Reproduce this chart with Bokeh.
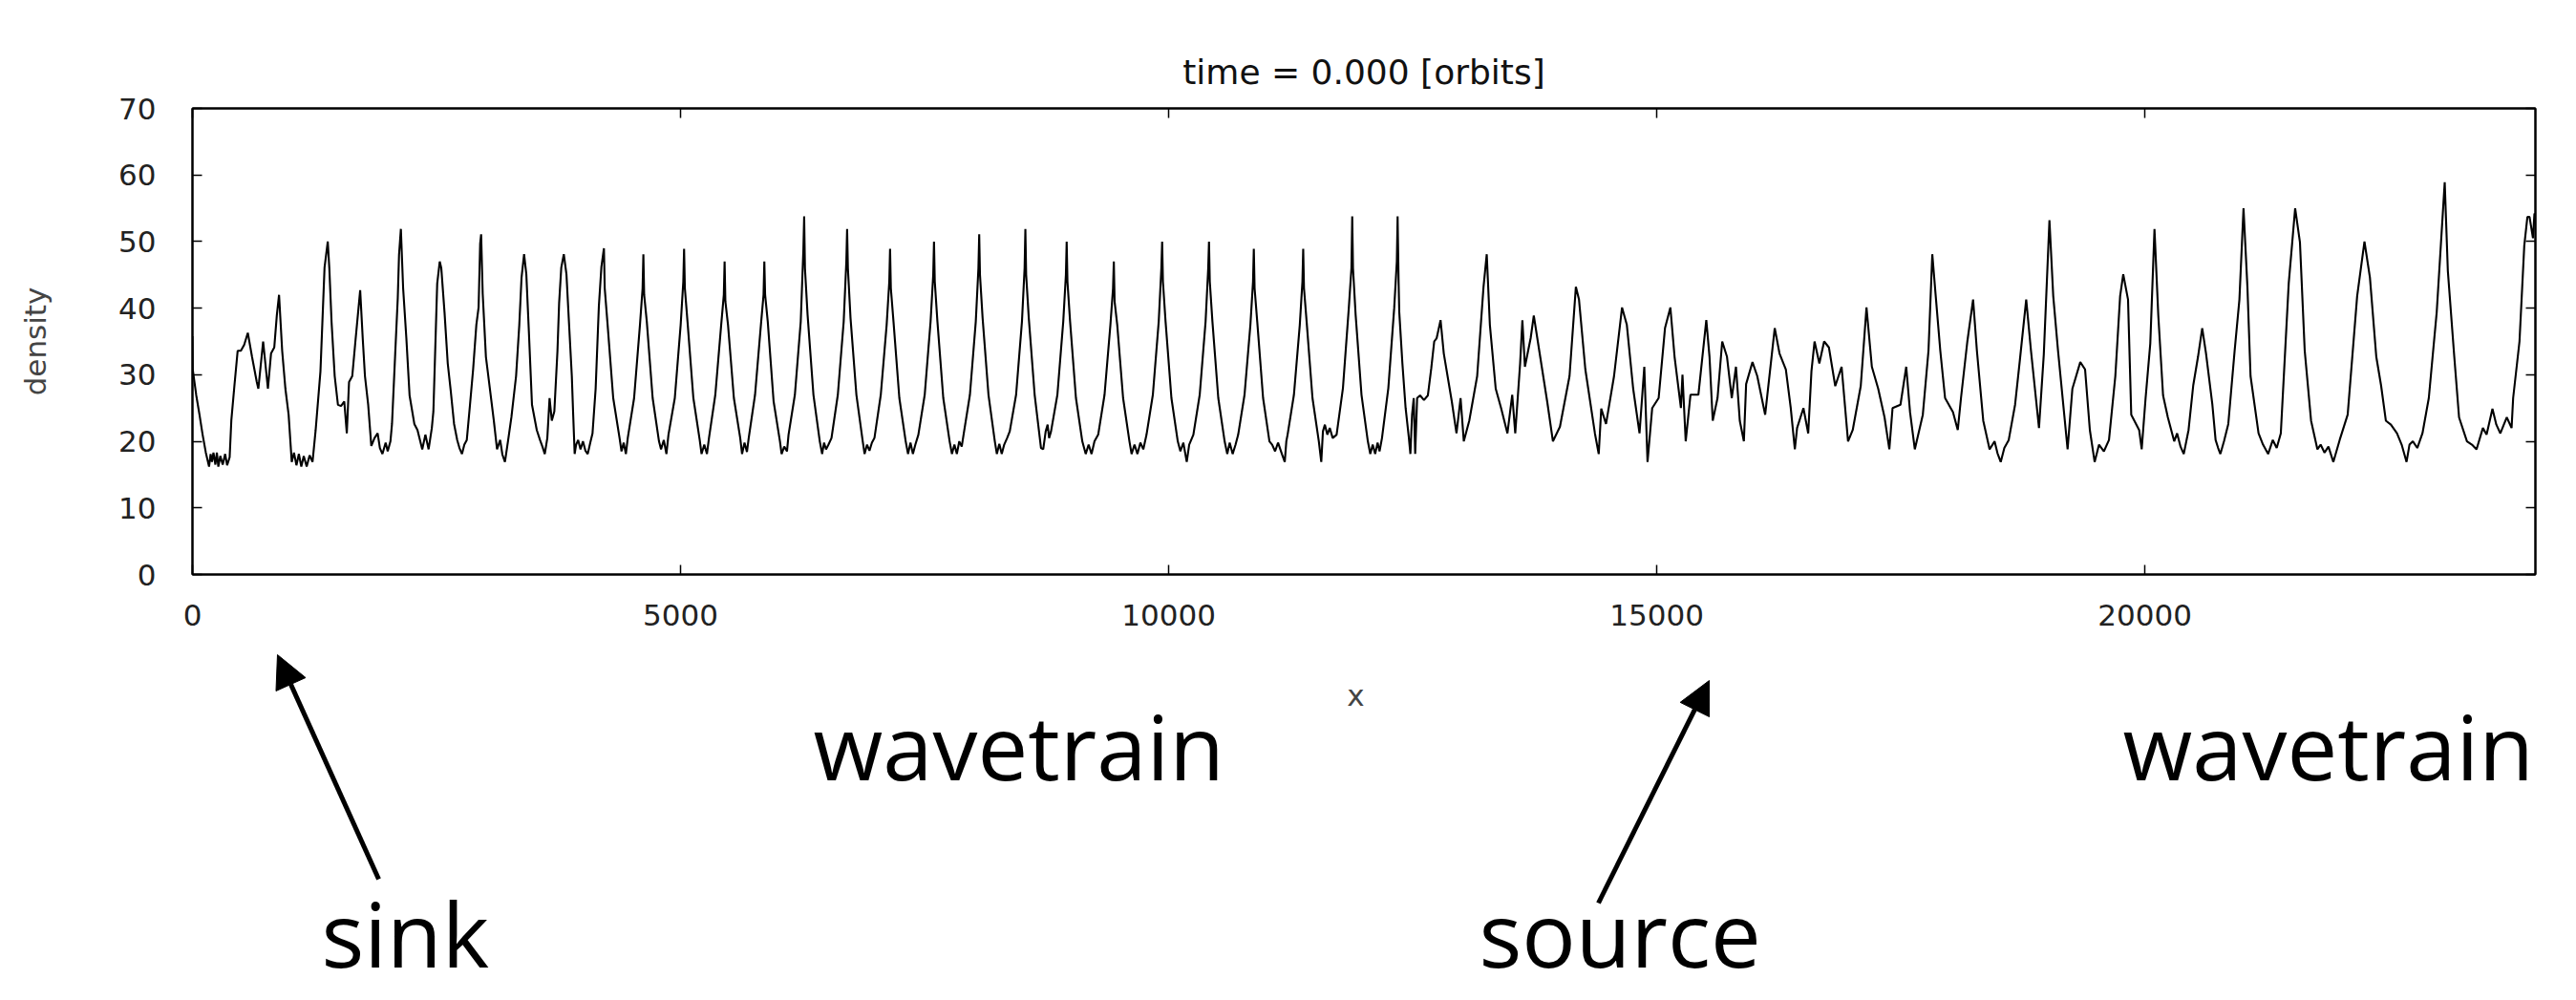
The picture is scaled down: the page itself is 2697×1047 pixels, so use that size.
from bokeh.plotting import figure
from bokeh.layouts import column
from bokeh.models import Range1d, LinearAxis, FixedTicker, Label, Arrow, NormalHead
from bokeh.embed import file_html
from bokeh.resources import INLINE

# ---------------- data ----------------
title_text = "time = 0.000 [orbits]"
x_label = "x"
y_label = "density"
x_ticks = [0, 5000, 10000, 15000, 20000]
x_tick_labels = ["0", "5000", "10000", "15000", "20000"]
y_ticks = [0, 10, 20, 30, 40, 50, 60, 70]
y_tick_labels = ["0", "10", "20", "30", "40", "50", "60", "70"]

# (x, density) vertices of the profile, region by region
sink_pts = [(0, 35.8), (3, 30.8), (39, 26.9), (72, 24), (104, 21), (137, 18.3), (170, 16.2), (186, 18.1),
            (200, 16.9), (215, 18.3), (235, 16.5), (250, 18.3), (265, 16.2), (285, 17.8), (310, 16.5),
            (335, 18.1), (355, 16.4), (381, 17.6), (398, 23.1), (430, 28.4), (463, 33.6), (496, 33.6),
            (530, 34.5), (567, 36.3), (610, 32.7), (659, 28.9), (675, 27.9), (724, 35), (773, 27.9),
            (805, 33.2), (838, 34.1), (864, 38.9), (887, 42), (919, 33.6), (952, 27.9), (985, 24),
            (1017, 16.9), (1040, 18.3), (1065, 16.4), (1090, 18.1), (1115, 16.2), (1140, 17.8),
            (1170, 16.2), (1200, 17.9), (1230, 16.9), (1262, 21.7), (1311, 30.5), (1353, 46.1),
            (1386, 50), (1402, 46), (1425, 37.9), (1457, 29.8), (1490, 25.5), (1522, 25.3), (1555, 26),
            (1581, 21.2), (1604, 28.9), (1637, 29.8), (1669, 35), (1718, 42.7), (1744, 35.5),
            (1767, 29.8), (1800, 25.5), (1832, 19.3), (1865, 20.5), (1897, 21.2), (1920, 19),
            (1946, 18.1), (1979, 19.8), (2000, 18.5), (2028, 20), (2044, 22.6), (2077, 33.2),
            (2103, 41.5), (2116, 48), (2135, 51.9), (2158, 43), (2191, 35.5), (2224, 26.9),
            (2273, 22.6), (2305, 21.7), (2354, 18.8), (2386, 21), (2419, 18.8), (2452, 22),
            (2468, 24.5), (2507, 43.7), (2533, 47), (2549, 46), (2582, 39.4), (2615, 31.7),
            (2647, 27.4), (2680, 22.6), (2712, 20.2), (2735, 19), (2761, 18.1), (2785, 19.5),
            (2810, 20.2), (2843, 25.5), (2875, 30.8), (2908, 37.5), (2931, 40.1), (2947, 49.7),
            (2957, 51.1), (2973, 42.2), (3006, 32.7), (3055, 26.9), (3087, 23.1), (3120, 18.8),
            (3152, 20.2), (3175, 18), (3201, 16.9), (3234, 20.2), (3267, 23.6), (3315, 29.8),
            (3348, 37.5), (3371, 44.6), (3397, 48.1), (3420, 45.1), (3446, 36.5), (3478, 25.5),
            (3527, 21.7), (3560, 20.2), (3585, 19.2), (3609, 18.1), (3635, 20.5), (3658, 26.5),
            (3681, 23.1), (3707, 24.5), (3739, 33.6), (3756, 40.8), (3778, 46.1), (3804, 48.1),
            (3831, 45.1), (3853, 38.9), (3886, 29.8), (3900, 24), (3915, 18.1), (3930, 19.5),
            (3951, 20.2), (3975, 18.8), (4000, 20), (4025, 18.6), (4049, 18.1), (4075, 19.8),
            (4098, 21.2), (4130, 27.9), (4163, 40.3), (4189, 46.2)]

left_train_pts = [
    (4215, 49), (4223, 43), (4250, 38), (4310, 26.5), (4375, 20.5), (4395, 18.5), (4417, 19.8), (4440, 18.1),
    (4459, 20.5), (4524, 26.5), (4584, 37.5), (4611, 43),
    (4619, 48.1), (4627, 42), (4654, 38), (4714, 26.5), (4779, 20), (4800, 18.8), (4828, 20.2), (4855, 18.1),
    (4876, 21), (4941, 26.5), (5001, 37.5), (5028, 44),
    (5036, 48.9), (5044, 43), (5071, 38), (5131, 26.5), (5196, 20.2), (5215, 18.1), (5243, 19.5), (5270, 18.1),
    (5291, 20.5), (5356, 27), (5416, 37.5), (5443, 42),
    (5451, 47), (5459, 41), (5486, 37.5), (5546, 26.5), (5611, 20.5), (5630, 18.1), (5655, 19.8), (5680, 18.4),
    (5698, 20.5), (5763, 27), (5823, 37.5), (5850, 42),
    (5858, 47), (5866, 42), (5893, 38), (5953, 26), (6018, 20), (6035, 18.1), (6062, 19.2), (6090, 18.5),
    (6106, 21), (6171, 27), (6231, 38), (6258, 48.8),
    (6266, 53.8), (6274, 46), (6301, 39), (6361, 27), (6426, 20), (6450, 18.1), (6470, 19.8), (6490, 18.8),
    (6515, 19.5), (6546, 20.5), (6611, 27), (6671, 38), (6698, 47),
    (6706, 51.9), (6714, 46), (6741, 38.5), (6801, 27), (6866, 20), (6885, 18.1), (6910, 19.5), (6935, 18.6),
    (6960, 19.8), (6986, 20.5), (7051, 27), (7111, 37.5), (7138, 44),
    (7146, 48.9), (7154, 43), (7181, 38), (7241, 26.5), (7306, 20), (7330, 18.1), (7355, 19.8), (7380, 18.1),
    (7405, 19.5), (7436, 21), (7501, 27), (7561, 38), (7588, 45),
    (7596, 50), (7604, 44), (7631, 38), (7691, 26.5), (7756, 20), (7780, 18.1), (7805, 19.5), (7830, 18.1),
    (7855, 20), (7880, 19.2), (7899, 21), (7964, 27), (8024, 38), (8051, 46),
    (8059, 51.1), (8067, 45), (8094, 38.5), (8154, 27), (8219, 20), (8240, 18.1), (8265, 19.6), (8290, 18.1),
    (8315, 19.5), (8345, 20.5), (8372, 21.5), (8437, 27), (8497, 38), (8524, 46),
    (8532, 51.9), (8540, 45), (8567, 38.5), (8627, 27), (8692, 19), (8715, 18.8), (8740, 21.5), (8760, 22.5),
    (8775, 20.5), (8795, 21.5), (8860, 27), (8920, 38), (8947, 45),
    (8955, 50), (8963, 44), (8990, 38), (9050, 26.5), (9115, 20), (9150, 18.1), (9180, 19.5), (9210, 18.1),
    (9240, 20), (9278, 21), (9343, 27), (9403, 37.5), (9430, 43),
    (9438, 47), (9446, 41), (9473, 37.5), (9533, 26.5), (9598, 20), (9620, 18.1), (9650, 19.5), (9680, 18.1),
    (9710, 19.8), (9740, 18.8), (9773, 21), (9838, 27), (9898, 38), (9925, 46),
    (9933, 50), (9941, 44), (9968, 38), (10028, 26.5), (10093, 20), (10120, 18.5), (10150, 19.8), (10185, 16.9),
    (10210, 19.5), (10253, 21), (10318, 27), (10378, 38), (10405, 46),
    (10413, 50), (10421, 44), (10448, 38), (10508, 26.5), (10573, 20), (10600, 18.1), (10625, 19.8),
    (10655, 18.1), (10685, 19.5), (10712, 21), (10777, 27), (10837, 37.5), (10864, 44),
    (10872, 48.9), (10880, 43), (10907, 38), (10967, 26.5), (11032, 20), (11060, 19.5), (11090, 18.5),
    (11120, 19.8), (11160, 18.1), (11189, 16.9), (11205, 20), (11218, 21), (11283, 27), (11343, 37.5),
    (11370, 44),
    (11378, 48.9), (11386, 43), (11413, 38), (11473, 26.5), (11538, 20), (11563, 16.9), (11580, 21.5),
    (11600, 22.5), (11625, 21), (11650, 22), (11680, 20.5), (11720, 21), (11785, 28), (11845, 40), (11872, 46),
    (11880, 53.8), (11888, 46), (11915, 39), (11975, 27), (12040, 20), (12065, 18.1), (12090, 19.5),
    (12115, 18.1), (12140, 19.8), (12160, 18.5), (12185, 20.5), (12250, 28), (12310, 40), (12337, 47)]

source_pts = [
    (12345, 53.8), (12355, 44), (12362, 39.4), (12394, 31.7), (12427, 25), (12459, 20.7), (12476, 18.1),
    (12493, 24), (12510, 26.5), (12525, 18.1), (12545, 26.5), (12575, 26.9), (12615, 26.2), (12655, 26.9),
    (12690, 31), (12720, 35), (12745, 35.5), (12785, 38.2), (12818, 33.2), (12900, 26), (12948, 21.2),
    (12990, 26.5), (13023, 20), (13079, 23.1), (13160, 29.8), (13225, 43.2), (13258, 48.1), (13290, 37.5),
    (13350, 27.9), (13405, 25), (13470, 21.2), (13519, 27), (13550, 21.2), (13600, 31.7), (13623, 38.2),
    (13649, 31.2), (13708, 35.5), (13740, 38.9), (13796, 33.6), (13877, 26), (13936, 20), (14008, 22.2),
    (14106, 29.8), (14171, 43.2), (14203, 41.3), (14268, 30.8), (14366, 21.2), (14405, 18.1), (14431, 24.9),
    (14480, 22.6), (14562, 29.8), (14644, 40.1), (14693, 37.5), (14758, 27.9), (14823, 21.2), (14872, 31.2),
    (14905, 16.9), (14953, 25), (15019, 26.5), (15084, 37), (15139, 40.1), (15182, 32.7), (15247, 25),
    (15263, 30), (15296, 20), (15345, 27), (15426, 27), (15507, 38.2), (15540, 32.7), (15573, 23.1),
    (15622, 26.5), (15670, 35), (15719, 32.7), (15768, 26.5), (15811, 31.2), (15850, 23.1), (15892, 20),
    (15915, 28.6), (15980, 31.9), (16029, 29.8), (16110, 24), (16208, 37), (16257, 33.2), (16322, 30.8),
    (16372, 25), (16414, 18.8), (16437, 22), (16502, 25), (16551, 21.2), (16584, 30.5), (16616, 35),
    (16665, 31.7), (16714, 35), (16763, 34.1), (16828, 28.3), (16893, 31.2), (16959, 20), (17007, 21.7),
    (17089, 28.3), (17148, 40.1), (17203, 31.2), (17268, 27.9), (17333, 23.6), (17382, 18.8), (17415, 25),
    (17496, 25.5), (17555, 31.2), (17594, 24.4), (17643, 18.8), (17725, 24), (17783, 33.6)]

right_train_pts = [
    (17822, 48.1), (17855, 42.2), (17904, 33.6), (17953, 26.5), (18034, 24.4), (18083, 21.7), (18116, 26.5),
    (18181, 35), (18240, 41.3), (18279, 33.6), (18344, 23.1), (18409, 18.8), (18460, 20), (18490, 18.2),
    (18523, 16.9), (18560, 19), (18605, 20.2), (18670, 25.5), (18719, 32.2), (18784, 41.3), (18833, 33.6),
    (18915, 22), (18964, 33), (19022, 53.2), (19061, 41.8), (19110, 33.6), (19208, 18.8), (19257, 27.9),
    (19338, 31.9), (19387, 30.8), (19436, 21.7), (19485, 16.9), (19530, 19.5), (19580, 18.5), (19632, 20.2),
    (19697, 29.8), (19746, 41.8), (19778, 45.1), (19827, 41.3), (19860, 24), (19941, 21.7), (19967, 18.8),
    (20007, 26.5), (20055, 34.7), (20098, 51.9), (20137, 38.9), (20186, 26.9), (20235, 23.6), (20300, 20),
    (20330, 21.2), (20365, 19.2), (20398, 18.1), (20447, 21.7), (20495, 28.4), (20544, 32.7), (20587, 37),
    (20626, 33.2), (20691, 25.5), (20724, 20.2), (20750, 19), (20773, 18.1), (20810, 20), (20854, 22.6),
    (20919, 33.6), (20968, 41.3), (21010, 55), (21050, 43.2), (21082, 29.8), (21164, 21.2), (21210, 19.5),
    (21262, 18.1), (21310, 20.2), (21350, 19), (21392, 21.2), (21473, 43.7), (21539, 55), (21588, 49.9),
    (21637, 33.6), (21702, 23.1), (21767, 18.8), (21800, 19.5), (21840, 18.3), (21880, 19.2), (21930, 16.9),
    (21995, 20.2), (22077, 24), (22174, 41.8), (22249, 50), (22305, 44.6), (22370, 32.7), (22419, 28.4),
    (22468, 23.1), (22520, 22.5), (22582, 21.2), (22630, 19.5), (22680, 16.9), (22710, 19.5), (22745, 20),
    (22790, 19), (22843, 21.2), (22908, 26.5), (22989, 39.4), (23071, 58.9), (23103, 45.6), (23169, 32.7),
    (23218, 23.6), (23299, 20), (23350, 19.5), (23397, 18.8), (23462, 22), (23500, 21), (23560, 24.9),
    (23600, 22.5), (23641, 21.2), (23707, 23.6), (23756, 22), (23772, 26.5), (23837, 35), (23886, 49.4),
    (23918, 53.7), (23940, 53.7), (23975, 50.5), (23990, 54.2), (24000, 54)]

annotations = ["wavetrain", "wavetrain", "sink", "source"]

# ---------------- layout constants (canvas pixels) ----------------
W, H = 2697, 1047
FL, FR, FT, FB = 201, 2654, 113, 601      # frame edges of the chart
SPLIT = 680                               # main chart above, slide annotations below
AX_FONT = "DejaVu Sans"
ANN_FONT = "Open Sans"

# ---------------- main chart ----------------
p = figure(width=W, height=SPLIT, x_range=Range1d(0, 24000), y_range=Range1d(0, 70),
           output_backend="svg", toolbar_location=None, title=title_text,
           min_border_left=FL, min_border_right=W - FR, min_border_top=FT, min_border_bottom=SPLIT - FB,
           y_axis_label=y_label)
p.background_fill_color = "white"
p.border_fill_color = "white"
p.xgrid.visible = False
p.ygrid.visible = False
p.outline_line_color = "black"
p.outline_line_width = 2

p.title.align = "center"
p.title.text_font = AX_FONT
p.title.text_font_size = "36px"
p.title.text_font_style = "normal"
p.title.text_color = "#111111"
p.title.standoff = 36
p.title.offset = -18


def style_axis(ax):
    ax.major_tick_in = 10
    ax.major_tick_out = 0
    ax.major_tick_line_color = "black"
    ax.major_tick_line_width = 1.5
    ax.minor_tick_line_color = None
    ax.axis_line_color = "black"
    ax.axis_line_width = 2
    ax.major_label_text_font = AX_FONT
    ax.major_label_text_font_size = "31px"
    ax.major_label_text_color = "#222222"
    ax.axis_label_text_font = AX_FONT
    ax.axis_label_text_font_size = "31px"
    ax.axis_label_text_font_style = "normal"
    ax.axis_label_text_color = "#444444"


xa = p.xaxis[0]
ya = p.yaxis[0]
style_axis(xa)
style_axis(ya)
xa.ticker = FixedTicker(ticks=x_ticks)
xa.major_label_overrides = dict(zip(x_ticks, x_tick_labels))
ya.ticker = FixedTicker(ticks=y_ticks)
ya.major_label_overrides = dict(zip(y_ticks, y_tick_labels))
xa.major_label_standoff = 31
ya.major_label_standoff = 38
ya.axis_label_standoff = 66

top_ax = LinearAxis(ticker=FixedTicker(ticks=x_ticks))
right_ax = LinearAxis(ticker=FixedTicker(ticks=y_ticks))
for ax in (top_ax, right_ax):
    style_axis(ax)
    ax.major_label_text_color = None
    ax.major_label_text_font_size = "0px"
    ax.major_label_standoff = 0
p.add_layout(top_ax, "above")
p.add_layout(right_ax, "right")

xs, ys = [], []
for pts in (sink_pts, left_train_pts, source_pts, right_train_pts):
    for a, b in pts:
        xs.append(a)
        ys.append(b)
p.line(xs, ys, line_color="black", line_width=2.1)

# ---------------- lower strip: x label and slide annotations ----------------
# its frame is aligned with the chart frame, so its x range is the frame's pixel span
q = figure(width=W, height=H - SPLIT, x_range=Range1d(FL, FR), y_range=Range1d(H, SPLIT),
           output_backend="svg", toolbar_location=None, x_axis_type=None, y_axis_type=None,
           min_border=0, min_border_left=0, min_border_right=0, min_border_top=0, min_border_bottom=0)
q.background_fill_color = "white"
q.border_fill_color = "white"
q.outline_line_color = None
q.xgrid.visible = False
q.ygrid.visible = False

q.add_layout(Label(x=1419, y=727, text=x_label, text_align="center", text_baseline="middle",
                   text_font=AX_FONT, text_font_size="31px", text_color="#444444"))

BASE_FIX = 40   # alphabetic baseline is drawn this much lower than asked
ann_pos = [(851, 820), (2222, 820), (336, 1016), (1548, 1016)]
for txt, (px, py) in zip(annotations, ann_pos):
    q.add_layout(Label(x=px, y=py - BASE_FIX, text=txt, text_align="left", text_baseline="alphabetic",
                       text_font=ANN_FONT, text_font_size="94px", text_color="black"))

arrow_pos = [((396, 920), (290, 685)), ((1673, 945), (1789, 712))]
for (sx, sy), (ex, ey) in arrow_pos:
    q.add_layout(Arrow(end=NormalHead(size=34, fill_color="black", line_color="black"),
                       x_start=sx, y_start=sy, x_end=ex, y_end=ey,
                       line_color="black", line_width=5))

layout = column(p, q, spacing=0)
open("out.html", "w").write(file_html(layout, INLINE))
